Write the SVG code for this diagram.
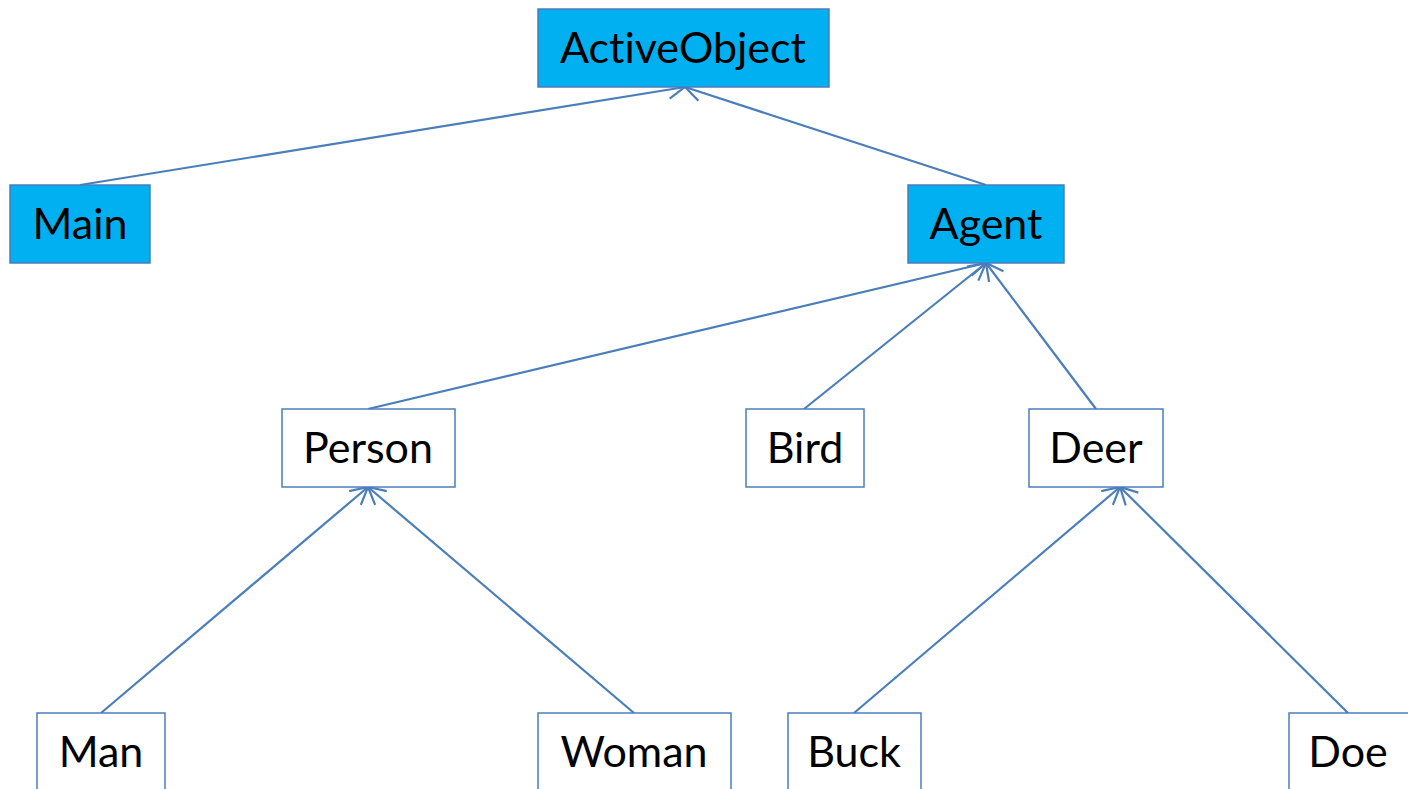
<svg xmlns="http://www.w3.org/2000/svg" width="1408" height="789" viewBox="0 0 1408 789">
<style>
.box{stroke:#4A7EBB;stroke-width:1.5}
.blue{fill:#00B0F0}
.white{fill:#FFFFFF}
.lbl{font-family:Lato,"Open Sans",sans-serif;font-size:43px;fill:#000;text-anchor:middle;font-variant-ligatures:none}
.edge{stroke:#4A7EBB;stroke-width:2.2;fill:none;marker-end:url(#arr)}
</style>
<defs>
<marker id="arr" viewBox="0 0 22 22" refX="20" refY="11" markerWidth="22" markerHeight="22" markerUnits="userSpaceOnUse" orient="auto">
<path d="M3,2 L20,11 L3,20" fill="none" stroke="#4A7EBB" stroke-width="2.2"/>
</marker>
</defs>
<rect width="1408" height="789" fill="#FFFFFF"/>
<g id="connectors">
<line class="edge" x1="80" y1="185" x2="685" y2="87"/>
<line class="edge" x1="986" y1="185" x2="685" y2="87"/>
<line class="edge" x1="368" y1="409" x2="986" y2="263"/>
<line class="edge" x1="804" y1="409" x2="986" y2="263"/>
<line class="edge" x1="1096" y1="409" x2="986" y2="263"/>
<line class="edge" x1="101" y1="713" x2="368" y2="487"/>
<line class="edge" x1="634" y1="713" x2="368" y2="487"/>
<line class="edge" x1="854" y1="713" x2="1120" y2="487"/>
<line class="edge" x1="1348" y1="713" x2="1120" y2="487"/>
</g>
<g id="activeobject"><rect class="box blue" x="538" y="9" width="291" height="78"/><text class="lbl" x="683" y="63">ActiveObject</text></g>
<g id="main"><rect class="box blue" x="10" y="185" width="140" height="78"/><text class="lbl" x="80" y="239">Main</text></g>
<g id="agent"><rect class="box blue" x="908" y="185" width="156" height="78"/><text class="lbl" x="986" y="239">Agent</text></g>
<g id="person"><rect class="box white" x="282" y="409" width="173" height="78"/><text class="lbl" x="368" y="463">Person</text></g>
<g id="bird"><rect class="box white" x="746" y="409" width="118" height="78"/><text class="lbl" x="805" y="463">Bird</text></g>
<g id="deer"><rect class="box white" x="1029" y="409" width="134" height="78"/><text class="lbl" x="1096" y="463">Deer</text></g>
<g id="man"><rect class="box white" x="37" y="713" width="128" height="90"/><text class="lbl" x="101" y="767">Man</text></g>
<g id="woman"><rect class="box white" x="538" y="713" width="193" height="90"/><text class="lbl" x="634" y="767">Woman</text></g>
<g id="buck"><rect class="box white" x="788" y="713" width="133" height="90"/><text class="lbl" x="854" y="767">Buck</text></g>
<g id="doe"><rect class="box white" x="1289" y="713" width="130" height="90"/><text class="lbl" x="1348" y="767">Doe</text></g>
</svg>
